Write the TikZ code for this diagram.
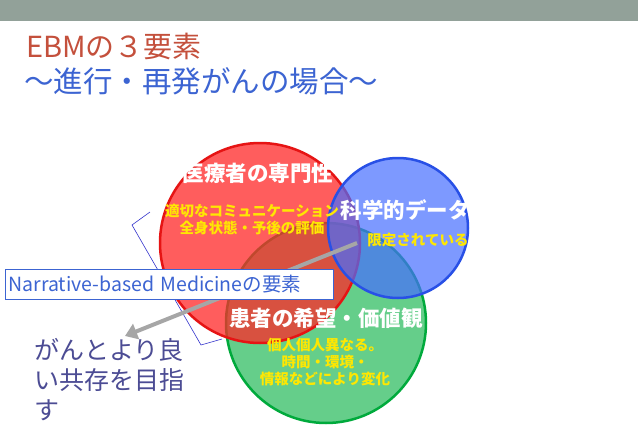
\documentclass[tikz,border=0pt]{standalone}
\usepackage{fontspec}
\usetikzlibrary{arrows.meta}
\setmainfont{Noto Sans CJK JP}
\begin{document}
\begin{tikzpicture}[x=1pt,y=-1pt,
  circ/.style={line width=2.5pt,fill opacity=0.75},
  head/.style={font=\fontsize{21.5}{24}\selectfont\bfseries, text=white},
  sub/.style={font=\fontsize{14.5}{17}\selectfont\bfseries, text=yellow!90!orange, align=center},
  lbl/.style={font=\fontsize{25}{30}\selectfont, text=black!30!blue!40!gray, align=left, anchor=north west, inner sep=0}]
\useasboundingbox (0,0) rectangle (638,426);
\fill[white] (0,0) rectangle (638,426);
\fill[fill={rgb,255:red,146;green,161;blue,153}] (0,0) rectangle (638,21);
\node[anchor=west, inner sep=0, text={rgb,255:red,196;green,80;blue,60}, font=\fontsize{29}{32}\selectfont] (t1) at (26,46) {EBMの３要素};
\node[anchor=west, inner sep=0, text={rgb,255:red,60;green,100;blue,210}, font=\fontsize{29.5}{32}\selectfont] (t2) at (24,81) {～進行・再発がんの場合～};
% circles
\draw[circ, draw={rgb,255:red,0;green,170;blue,60}, fill={rgb,255:red,50;green,190;blue,100}] (326,323) circle (100);
\draw[circ, draw={rgb,255:red,230;green,20;blue,20}, fill={rgb,255:red,255;green,40;blue,40}] (260,243) circle (100);
\draw[circ, draw={rgb,255:red,40;green,80;blue,230}, fill={rgb,255:red,70;green,110;blue,255},fill opacity=0.7] (398,228) circle (70);
\node[head] (h1) at (258,173) {医療者の専門性};
\node[sub] (s1) at (252,220) {適切なコミュニケーション\\全身状態・予後の評価};
\node[head] (h2) at (405,210) {科学的データ};
\node[sub] (s2) at (418,240) {限定されている};
\node[head] (h3) at (326,318) {患者の希望・価値観};
\node[sub] (s3) at (325,362) {個人個人異なる。\\時間・環境・\\情報などにより変化};
% bracket
\draw[blue!60!gray, line width=0.6pt] (150,212) -- (132,225) -- (201,345) -- (222,339);
% arrow
\coordinate (a0) at (357,243);
\coordinate (a1) at (125,336);
\draw[line width=4pt, gray!70, -{Triangle[length=12pt,width=16pt]}] (a0) -- (a1);
\node[draw={rgb,255:red,60;green,100;blue,210}, fill=white, line width=0.8pt, anchor=west, minimum height=30pt, text={rgb,255:red,60;green,100;blue,210}, font=\fontsize{19.5}{22}\selectfont, inner sep=3pt, align=left, text width=322pt] (box) at (5,284) {Narrative-based Medicineの要素};
\node[lbl] (n) at (34,338) {がんとより良\\い共存を目指\\す};
\end{tikzpicture}
\end{document}
